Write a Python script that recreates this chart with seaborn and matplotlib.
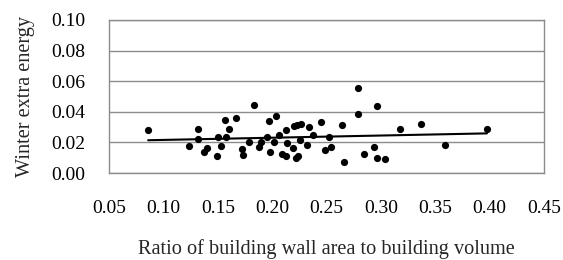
import numpy as np
import pandas as pd
import seaborn as sns
import matplotlib.pyplot as plt

# ratio of wall area to volume vs. winter extra energy
ratio = [0.086, 0.124, 0.1316, 0.132, 0.137, 0.140, 0.149, 0.1506, 0.1527, 0.1567,
         0.158, 0.160, 0.1668, 0.172, 0.1736, 0.179, 0.1837, 0.188, 0.190, 0.1956,
         0.1975, 0.198, 0.202, 0.2036, 0.2067, 0.2089, 0.2128, 0.2128, 0.214, 0.2196,
         0.220, 0.222, 0.2232, 0.2241, 0.2257, 0.2266, 0.2318, 0.234, 0.238, 0.2447,
         0.2487, 0.2524, 0.2542, 0.2643, 0.2665, 0.2794, 0.2794, 0.2846, 0.2938, 0.2962,
         0.2962, 0.3039, 0.3177, 0.3367, 0.359, 0.3975]
energy = [0.0281, 0.0178, 0.0222, 0.0288, 0.0139, 0.0166, 0.0113, 0.0233, 0.0178, 0.0348,
          0.0233, 0.0288, 0.0359, 0.0157, 0.0118, 0.0205, 0.0447, 0.0172, 0.0205, 0.0233,
          0.0340, 0.0137, 0.0200, 0.0375, 0.0248, 0.0124, 0.0281, 0.0111, 0.0194, 0.0166,
          0.0307, 0.0098, 0.0316, 0.0111, 0.0216, 0.0322, 0.0183, 0.0303, 0.0248, 0.0331,
          0.0150, 0.0233, 0.0172, 0.0316, 0.0072, 0.0558, 0.0388, 0.0122, 0.0172, 0.0436,
          0.0098, 0.0094, 0.0288, 0.0318, 0.0183, 0.0285]

x_ticks = [0.05, 0.10, 0.15, 0.20, 0.25, 0.30, 0.35, 0.40, 0.45]
y_ticks = [0.00, 0.02, 0.04, 0.06, 0.08, 0.10]

df = pd.DataFrame({'ratio': ratio, 'energy': energy})

sns.set_style('white')
plt.rcParams['font.family'] = ['Liberation Serif', 'DejaVu Serif']
plt.rcParams['font.size'] = 14

fig = plt.figure(figsize=(5.63, 2.6), dpi=100)
ax = fig.add_axes([109 / 563, 1 - 173 / 260, 435 / 563, 153 / 260])

# scatter + linear trend line
sns.regplot(data=df, x='ratio', y='energy', ax=ax, ci=None, color='black',
            scatter_kws={'s': 27, 'linewidths': 0, 'alpha': 1},
            line_kws={'lw': 1.5})

ax.set_xlim(0.05, 0.45)
ax.set_ylim(0, 0.10)
ax.set_xticks(x_ticks)
ax.set_yticks(y_ticks)
ax.set_xticklabels([f'{v:.2f}' for v in x_ticks])
ax.set_yticklabels([f'{v:.2f}' for v in y_ticks])

ax.yaxis.grid(True, color='#8c8c8c', lw=1)
ax.set_axisbelow(True)
for side in ['left', 'right', 'top', 'bottom']:
    ax.spines[side].set_color('#8c8c8c')
    ax.spines[side].set_linewidth(1)
ax.tick_params(axis='both', direction='out', width=1, color='#8c8c8c',
               labelcolor='black', labelsize=14)
ax.tick_params(axis='x', length=4.5, pad=15)
ax.tick_params(axis='y', length=5, pad=12)

ax.set_xlabel('Ratio of building wall area to building volume', fontsize=14.6, labelpad=16)
ax.set_ylabel('Winter extra energy', fontsize=14.6, labelpad=12)

plt.savefig('out.png', dpi=100)
plt.close()
